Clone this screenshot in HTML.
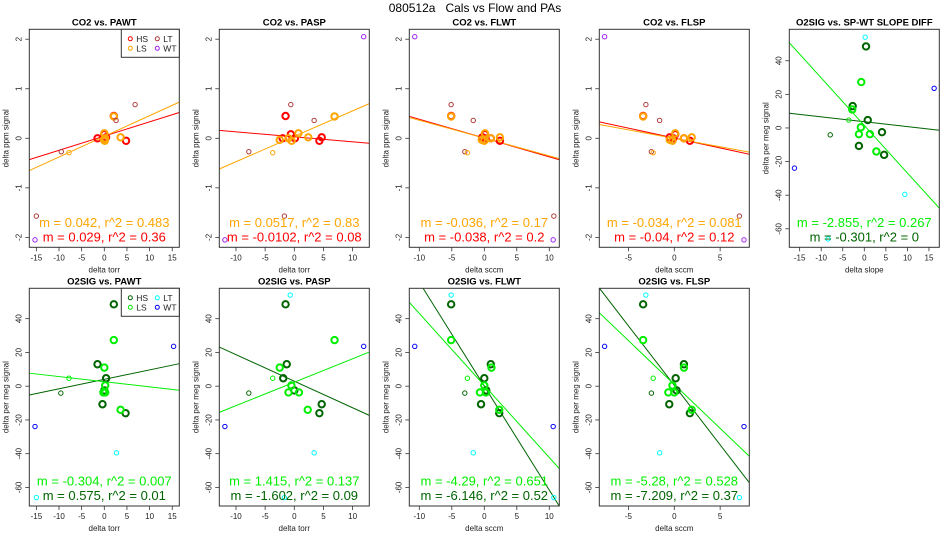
<!DOCTYPE html>
<html><head><meta charset="utf-8"><style>
body{margin:0;background:#fff;}
svg{display:block;font-family:"Liberation Sans",sans-serif;}
</style></head><body>
<svg id="chart" width="950" height="550" viewBox="0 0 950 550">
<text x="475" y="12" text-anchor="middle" font-size="12" style="white-space:pre">080512a   Cals vs Flow and PAs</text>
</svg>
<script>
// ---------- CO2 row data (y shared per group, x per panel) ----------
const co2HsY = [0.45, 0.08, 0.0, 0.02, -0.05, 0.0];
const co2LsY = [0.44, -0.03, 0.1, 0.02, -0.05, 0.0];
const co2ThinDarkY = [-0.27];
const co2ThinLightY = [-0.29];
const co2LtY = [0.68, 0.36, -1.57];
const co2WtY = [2.05, -2.05];
const co2HsX_pawt = [2.1, 0, -1.5, 0.4, 4.8, 0.2];
const co2HsX_pasp = [-1.5, -0.6, -2, 4.7, 4.3, 0.1];
const co2HsX_flwt = [-5.1, 0.1, 1.0, -0.3, 2.4, 0.2];
const co2HsX_flsp = [-3.4, 0.1, 1.05, -0.5, 1.7, -0.1];
const co2LsX_pawt = [2.1, -0.1, 0, 3.6, 0.1, 0.2];
const co2LsX_pasp = [6.9, -2.5, 0.7, 2.4, -0.46, -1];
const co2LsX_flwt = [-5.1, -0.4, 0.1, 2.4, 0, 1];
const co2LsX_flsp = [-3.4, -0.5, 0.1, 1.9, -0.2, 1.05];
const co2ThinDarkX = {pawt:[-9.5], pasp:[-7.8], flwt:[-3], flsp:[-2.5]};
const co2ThinLightX = {pawt:[-7.8], pasp:[-3.7], flwt:[-2.6], flsp:[-2.3]};
const co2LtX_pawt = [6.8, 2.6, -15], co2LtX_pasp = [-0.6, 3.4, -1.7], co2LtX_flwt = [-5.1, -1.7, 10.7], co2LtX_flsp = [-3.1, -1.6, 7.1];
const co2WtX_pawt = [99, -15.3], co2WtX_pasp = [11.9, -11.9], co2WtX_flwt = [-10.7, 10.6], co2WtX_flsp = [-7.6, 7.6];
// ---------- O2SIG row data ----------
const o2HsY = [48.5, 13, 4.7, -10.7, -16, -2.5];
const o2LsY = [27.3, 11, 0.4, -3.7, -3.7, -14];
const o2ThinDarkY = [-4.1];
const o2ThinLightY = [4.7];
const o2LtY = [54, -39.5, -66];
const o2WtY = [23.6, -23.9];
const o2HsX_pawt = [2.1, -1.5, 0.4, -0.4, 4.7, 0];
const o2HsX_pasp = [-1.5, -1.3, -1.9, 4.7, 4.3, 0];
const o2HsX_flwt = [-5.1, 1, 0, -0.5, 2.3, 0.3];
const o2HsX_flsp = [-3.4, 1.05, 0.15, -0.55, 1.7, 0.25];
const o2HsX_slope = [0.4, -2.7, 0.8, -1.25, 4.6, 4.1];
const o2LsX_pawt = [2.1, 0, 0.2, -0.2, 0.2, 3.6];
const o2LsX_pasp = [6.9, -2.5, -0.5, -1, 0.8, 2.3];
const o2LsX_flwt = [-5.1, 1.1, 0, -0.67, 0.25, 2.3];
const o2LsX_flsp = [-3.4, 1.05, -0.2, -0.65, 0, 1.9];
const o2LsX_slope = [-0.7, -2.8, -0.8, -1.25, 1.3, 2.8];
const o2ThinDarkX = {pawt:[-9.6], pasp:[-7.8], flwt:[-3], flsp:[-2.5], slope:[-7.9]};
const o2ThinLightX = {pawt:[-7.8], pasp:[-3.7], flwt:[-2.6], flsp:[-2.3], slope:[-3.6]};
const o2LtX_pawt = [99, 2.7, -15], o2LtX_pasp = [-0.7, 3.4, -1.7], o2LtX_flwt = [-5.1, -1.7, 10.7], o2LtX_flsp = [-3.1, -1.6, 7.1], o2LtX_slope = [0.2, 9.4, -8.4];
const o2WtX_pawt = [15.3, -15.3], o2WtX_pasp = [11.9, -11.9], o2WtX_flwt = [-10.7, 10.6], o2WtX_flsp = [-7.6, 7.6], o2WtX_slope = [16.2, -16.2];
// ---------- regression lines: [slope, intercept] ----------
const fitLight = {pawtT:[0.0417,0.04], paspT:[0.0513,0.04], flwtT:[-0.036,0.005], flspT:[-0.034,0.0],
  pawtB:[-0.305,2.65], paspB:[1.39,2.35], flwtB:[-4.27,0.4], flspB:[-5.2,1.0], slopeB:[-2.83,1.5]};
const fitDark = {pawtT:[0.0287,0.045], paspT:[-0.0101,0.03], flwtT:[-0.038,0.005], flspT:[-0.04,0.005],
  pawtB:[0.56,4.05], paspB:[-1.575,2.95], flwtB:[-6.16,0], flspB:[-7.05,0.5], slopeB:[-0.29,3.7]};
const annotLight = {pawtT:"m = 0.042, r^2 = 0.483", paspT:"m = 0.0517, r^2 = 0.83", flwtT:"m = -0.036, r^2 = 0.17", flspT:"m = -0.034, r^2 = 0.081",
  pawtB:"m = -0.304, r^2 = 0.007", paspB:"m = 1.415, r^2 = 0.137", flwtB:"m = -4.29, r^2 = 0.651", flspB:"m = -5.28, r^2 = 0.528", slopeB:"m = -2.855, r^2 = 0.267"};
const annotDark = {pawtT:"m = 0.029, r^2 = 0.36", paspT:"m = -0.0102, r^2 = 0.08", flwtT:"m = -0.038, r^2 = 0.2", flspT:"m = -0.04, r^2 = 0.12",
  pawtB:"m = 0.575, r^2 = 0.01", paspB:"m = -1.602, r^2 = 0.09", flwtB:"m = -6.146, r^2 = 0.52", flspB:"m = -7.209, r^2 = 0.37", slopeB:"m = -0.301, r^2 = 0"};
const topYTicks = [-2,-1,0,1,2];
const botYTicks = [-60,-40,-20,0,20,40];

const NS="http://www.w3.org/2000/svg";
const svg=document.getElementById('chart');
function mk(tag,attrs,parent,text){const e=document.createElementNS(NS,tag);for(const k in attrs)e.setAttribute(k,attrs[k]);if(text!==undefined)e.textContent=text;(parent||svg).appendChild(e);return e;}

const TOPC={hs:'#ff0000',ls:'#ffa500',thinDark:'#b03a3a',thinLight:'#ffa500',lt:'#b03a3a',wt:'#a020f0',light:'#ffa500',dark:'#ff0000'};
const BOTC={hs:'#006400',ls:'#00ee00',thinDark:'#006400',thinLight:'#00ee00',lt:'#00ffff',wt:'#0000ff',light:'#00ee00',dark:'#006400'};

const panels=[
 {key:'pawtT',title:'CO2 vs. PAWT',L:29.3,R:179.3,T:29.3,B:247.3,xr:16.56,yr:[-2.2,2.2],xt:[-15,-10,-5,0,5,10,15],yt:topYTicks,xl:'delta torr',yl:'delta ppm signal',c:TOPC,legend:true,
  hs:[co2HsX_pawt,co2HsY],ls:[co2LsX_pawt,co2LsY],td:[co2ThinDarkX.pawt,co2ThinDarkY],tl:[co2ThinLightX.pawt,co2ThinLightY],lt:[co2LtX_pawt,co2LtY],wt:[co2WtX_pawt,co2WtY]},
 {key:'paspT',title:'CO2 vs. PASP',L:219.3,R:369.3,T:29.3,B:247.3,xr:12.86,yr:[-2.2,2.2],xt:[-10,-5,0,5,10],yt:topYTicks,xl:'delta torr',yl:'delta ppm signal',c:TOPC,
  hs:[co2HsX_pasp,co2HsY],ls:[co2LsX_pasp,co2LsY],td:[co2ThinDarkX.pasp,co2ThinDarkY],tl:[co2ThinLightX.pasp,co2ThinLightY],lt:[co2LtX_pasp,co2LtY],wt:[co2WtX_pasp,co2WtY]},
 {key:'flwtT',title:'CO2 vs. FLWT',L:409.3,R:559.3,T:29.3,B:247.3,xr:11.54,yr:[-2.2,2.2],xt:[-10,-5,0,5,10],yt:topYTicks,xl:'delta sccm',yl:'delta ppm signal',c:TOPC,
  hs:[co2HsX_flwt,co2HsY],ls:[co2LsX_flwt,co2LsY],td:[co2ThinDarkX.flwt,co2ThinDarkY],tl:[co2ThinLightX.flwt,co2ThinLightY],lt:[co2LtX_flwt,co2LtY],wt:[co2WtX_flwt,co2WtY]},
 {key:'flspT',title:'CO2 vs. FLSP',L:599.3,R:749.3,T:29.3,B:247.3,xr:8.18,yr:[-2.2,2.2],xt:[-5,0,5],yt:topYTicks,xl:'delta sccm',yl:'delta ppm signal',c:TOPC,
  hs:[co2HsX_flsp,co2HsY],ls:[co2LsX_flsp,co2LsY],td:[co2ThinDarkX.flsp,co2ThinDarkY],tl:[co2ThinLightX.flsp,co2ThinLightY],lt:[co2LtX_flsp,co2LtY],wt:[co2WtX_flsp,co2WtY]},
 {key:'slopeB',title:'O2SIG vs. SP-WT SLOPE DIFF',L:789.3,R:939.3,T:29.3,B:247.3,xr:17.4,yr:[-71,58.7],xt:[-15,-10,-5,0,5,10,15],yt:botYTicks,xl:'delta slope',yl:'delta per meg signal',c:BOTC,
  hs:[o2HsX_slope,o2HsY],ls:[o2LsX_slope,o2LsY],td:[o2ThinDarkX.slope,o2ThinDarkY],tl:[o2ThinLightX.slope,o2ThinLightY],lt:[o2LtX_slope,o2LtY],wt:[o2WtX_slope,o2WtY]},
 {key:'pawtB',title:'O2SIG vs. PAWT',L:29.3,R:179.3,T:288.3,B:506,xr:16.56,yr:[-71,58],xt:[-15,-10,-5,0,5,10,15],yt:botYTicks,xl:'delta torr',yl:'delta per meg signal',c:BOTC,legend:true,
  hs:[o2HsX_pawt,o2HsY],ls:[o2LsX_pawt,o2LsY],td:[o2ThinDarkX.pawt,o2ThinDarkY],tl:[o2ThinLightX.pawt,o2ThinLightY],lt:[o2LtX_pawt,o2LtY],wt:[o2WtX_pawt,o2WtY]},
 {key:'paspB',title:'O2SIG vs. PASP',L:219.3,R:369.3,T:288.3,B:506,xr:12.86,yr:[-71,58],xt:[-10,-5,0,5,10],yt:botYTicks,xl:'delta torr',yl:'delta per meg signal',c:BOTC,
  hs:[o2HsX_pasp,o2HsY],ls:[o2LsX_pasp,o2LsY],td:[o2ThinDarkX.pasp,o2ThinDarkY],tl:[o2ThinLightX.pasp,o2ThinLightY],lt:[o2LtX_pasp,o2LtY],wt:[o2WtX_pasp,o2WtY]},
 {key:'flwtB',title:'O2SIG vs. FLWT',L:409.3,R:559.3,T:288.3,B:506,xr:11.54,yr:[-71,58],xt:[-10,-5,0,5,10],yt:botYTicks,xl:'delta sccm',yl:'delta per meg signal',c:BOTC,
  hs:[o2HsX_flwt,o2HsY],ls:[o2LsX_flwt,o2LsY],td:[o2ThinDarkX.flwt,o2ThinDarkY],tl:[o2ThinLightX.flwt,o2ThinLightY],lt:[o2LtX_flwt,o2LtY],wt:[o2WtX_flwt,o2WtY]},
 {key:'flspB',title:'O2SIG vs. FLSP',L:599.3,R:749.3,T:288.3,B:506,xr:8.18,yr:[-71,58],xt:[-5,0,5],yt:botYTicks,xl:'delta sccm',yl:'delta per meg signal',c:BOTC,
  hs:[o2HsX_flsp,o2HsY],ls:[o2LsX_flsp,o2LsY],td:[o2ThinDarkX.flsp,o2ThinDarkY],tl:[o2ThinLightX.flsp,o2ThinLightY],lt:[o2LtX_flsp,o2LtY],wt:[o2WtX_flsp,o2WtY]}
];

panels.forEach((p,pi)=>{
  const g=mk('g',{});
  
  
  const sx=v=>p.L+(v+p.xr)/(2*p.xr)*(p.R-p.L);
  const sy=v=>p.B-(v-p.yr[0])/(p.yr[1]-p.yr[0])*(p.B-p.T);
  const cid='clip'+pi;
  const cp=mk('clipPath',{id:cid},g); mk('rect',{x:p.L,y:p.T,width:p.R-p.L,height:p.B-p.T},cp);
  const cx=(p.L+p.R)/2, cy=(p.T+p.B)/2;
  const t=mk('text',{x:cx,y:p.T-4,'text-anchor':'middle','font-size':'9.5','font-weight':'bold'},g,p.title);
   
  p.yt.forEach(v=>{const y=sy(v);
    mk('line',{x1:p.L-4,x2:p.L,y1:y,y2:y,stroke:'#333','stroke-width':0.8},g);
    const tl=mk('text',{x:0,y:0,transform:`translate(${p.L-8},${y}) rotate(-90)`,'text-anchor':'middle','font-size':'8',fill:'#222'},g,String(v));
     });
  p.xt.forEach(v=>{const x=sx(v);
    mk('line',{x1:x,x2:x,y1:p.B,y2:p.B+4,stroke:'#333','stroke-width':0.8},g);
    const tl=mk('text',{x:x,y:p.B+13,'text-anchor':'middle','font-size':'8',fill:'#222'},g,String(v));
     });
  const xl=mk('text',{x:cx,y:p.B+25,'text-anchor':'middle','font-size':'8',fill:'#222'},g,p.xl);
   
  const yl=mk('text',{x:0,y:0,transform:`translate(${p.L-21},${cy}) rotate(-90)`,'text-anchor':'middle','font-size':'8',fill:'#222'},g,p.yl);
   
  const pg=mk('g',{'clip-path':`url(#${cid})`},g);
  [[fitDark,p.c.dark,'fit-line-hs'],[fitLight,p.c.light,'fit-line-ls']].forEach(([f,col,nm])=>{
    const [m,b]=f[p.key];
    const ln=mk('line',{x1:sx(-p.xr),y1:sy(m*-p.xr+b),x2:sx(p.xr),y2:sy(m*p.xr+b),stroke:col,'stroke-width':1},pg);
     });
  const series=[['hs',p.hs,p.c.hs,3.2,2],['ls',p.ls,p.c.ls,3.2,2],['thin-dark',p.td,p.c.thinDark,2.2,1],['thin-light',p.tl,p.c.thinLight,2.2,1],['lt',p.lt,p.c.lt,2.2,1],['wt',p.wt,p.c.wt,2.2,1]];
  series.forEach(([nm,[xs,ys],col,r,sw])=>{
    xs.forEach((xv,i)=>{
      const c=mk('circle',{cx:sx(xv),cy:sy(ys[i]),r:r,fill:'none',stroke:col,'stroke-width':sw},pg);
       });
  });
  mk('rect',{x:p.L,y:p.T,width:p.R-p.L,height:p.B-p.T,fill:'none',stroke:'#333','stroke-width':1},g);
  const a1=mk('text',{x:cx,y:p.B-20.5,'text-anchor':'middle','font-size':'13',fill:p.c.light},g,annotLight[p.key]);
   
  const a2=mk('text',{x:cx,y:p.B-6,'text-anchor':'middle','font-size':'13',fill:p.c.dark},g,annotDark[p.key]);
   
  if(p.legend){
    const lg=mk('g',{},g);
     
    mk('rect',{x:p.R-58,y:p.T,width:58,height:28,fill:'#fff',stroke:'#333','stroke-width':1},lg);
    const ents=[['HS',p.c.hs,0,0],['LS',p.c.ls,0,1],['LT',p.c.lt,1,0],['WT',p.c.wt,1,1]];
    ents.forEach(([lab,col,ci,ri])=>{
      const x0=p.R-49+ci*27, y0=p.T+9.5+ri*9.5;
      const e=mk('g',{},lg);
       
      mk('circle',{cx:x0,cy:y0,r:2,fill:'none',stroke:col,'stroke-width':1},e);
      mk('text',{x:x0+6,y:y0+3,'font-size':'8.5',fill:'#222'},e,lab);
    });
  }
});
</script>
</body></html>
